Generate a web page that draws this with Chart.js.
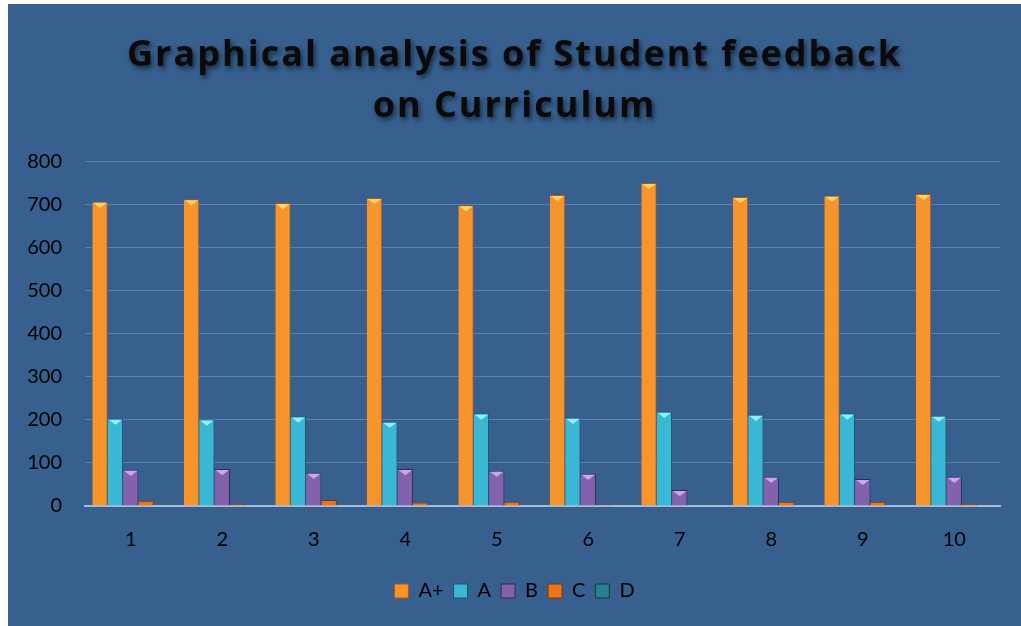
<!DOCTYPE html>
<html>
<head>
<meta charset="utf-8">
<script src="https://cdn.jsdelivr.net/npm/chart.js@4.4.0/dist/chart.umd.min.js"></script>
<style>
  html, body { margin: 0; padding: 0; background: #ffffff; }
  #wrap { position: absolute; left: 8px; top: 4px; width: 1013px; height: 622px; background: #37608f; }
  canvas { display: block; }
</style>
</head>
<body>
<div id="wrap"><canvas id="c" width="1013" height="622"></canvas></div>
<script>
const categories = ['1','2','3','4','5','6','7','8','9','10'];
const seriesNames = ['A+','A','B','C','D'];
const valuesAplus = [707, 713, 704, 716, 699, 723, 751, 718, 721, 725];
const valuesA     = [203, 201, 208, 196, 215, 205, 219, 212, 215, 210];
const valuesB     = [84, 86, 77, 86, 82, 75, 37, 68, 63, 68];
const valuesC     = [12, 5, 14, 8, 10, 3, 1, 10, 10, 5];
const valuesD     = [0, 0, 0, 0, 0, 0, 0, 0, 0, 0];
const yTicks      = [0, 100, 200, 300, 400, 500, 600, 700, 800];

const palette = [
  { mid: '#f7952c', edge: '#d46f16', border: '#b0570f', cap: '#ffd36a' },
  { mid: '#3bb7d6', edge: '#2290ac', border: '#14586a', cap: '#8ff0ff' },
  { mid: '#8261ad', edge: '#5f428a', border: '#3a2656', cap: '#c9a6f0' },
  { mid: '#ef7418', edge: '#c4560a', border: '#7d3306', cap: '#ffad5e' },
  { mid: '#2a7f8f', edge: '#1a5c68', border: '#0f3a42', cap: '#5fb8c8' }
];

function barFill(idx) {
  return function(ctx) {
    const chart = ctx.chart;
    const el = ctx.element;
    const p = palette[idx];
    if (!el || !isFinite(el.x) || !el.width) return p.mid;
    const x0 = el.x - el.width / 2, x1 = el.x + el.width / 2;
    const g = chart.ctx.createLinearGradient(x0, 0, x1, 0);
    g.addColorStop(0, p.edge);
    g.addColorStop(0.45, p.mid);
    g.addColorStop(1, p.edge);
    return g;
  };
}

const allValues = [valuesAplus, valuesA, valuesB, valuesC, valuesD];

const capPlugin = {
  id: 'caps',
  afterDatasetsDraw(chart) {
    const ctx = chart.ctx;
    chart.data.datasets.forEach((ds, di) => {
      const meta = chart.getDatasetMeta(di);
      meta.data.forEach((bar) => {
        const h = bar.base - bar.y;
        if (h < 12) return;
        const w = bar.width;
        const x0 = bar.x - w / 2;
        const cap = Math.min(w * 0.4, 7);
        ctx.save();
        ctx.fillStyle = palette[di].cap;
        ctx.beginPath();
        ctx.moveTo(x0 + 1, bar.y + 1);
        ctx.lineTo(x0 + w - 1, bar.y + 1);
        ctx.lineTo(bar.x, bar.y + cap);
        ctx.closePath();
        ctx.fill();
        ctx.restore();
      });
    });
  }
};

const titleShadow = {
  id: 'titleShadow',
  beforeDraw(chart) {
    const tb = chart.titleBlock;
    if (tb && !tb._patched) {
      const orig = tb.draw.bind(tb);
      tb.draw = function() {
        const ctx = chart.ctx;
        ctx.save();
        ctx.shadowColor = 'rgba(0,0,0,0.55)';
        ctx.shadowBlur = 5;
        ctx.shadowOffsetX = 2;
        ctx.shadowOffsetY = 3;
        try { ctx.letterSpacing = '2px'; } catch (e) {}
        orig();
        ctx.restore();
      };
      tb._patched = true;
    }
  }
};

new Chart(document.getElementById('c'), {
  type: 'bar',
  data: {
    labels: categories,
    datasets: seriesNames.map((name, i) => ({
      label: name,
      data: allValues[i],
      backgroundColor: barFill(i),
      borderColor: palette[i].border,
      borderWidth: { left: 0, right: 1, top: 1, bottom: 0 },
      borderSkipped: 'bottom',
      barPercentage: 1.0,
      categoryPercentage: 0.84
    }))
  },
  options: {
    responsive: false,
    animation: false,
    layout: { padding: { left: 0, right: 0, top: 0, bottom: 15 } },
    plugins: {
      title: {
        display: true,
        text: ['Graphical analysis of Student feedback', 'on Curriculum'],
        color: '#0a0a0a',
        font: { family: 'Open Sans', size: 36, weight: 'bold', lineHeight: 1.4 },
        padding: { top: 27, bottom: 30 }
      },
      legend: {
        display: true,
        position: 'bottom',
        labels: {
          color: '#000000',
          font: { family: 'Lato', size: 20 },
          boxWidth: 14,
          boxHeight: 14,
          padding: 10,
          generateLabels(chart) {
            return chart.data.datasets.map((ds, i) => ({
              text: ds.label,
              fillStyle: palette[i].mid,
              strokeStyle: palette[i].border,
              lineWidth: 1,
              hidden: false,
              datasetIndex: i,
              fontColor: '#000000'
            }));
          }
        }
      },
      tooltip: { enabled: false }
    },
    scales: {
      x: {
        grid: { display: false, drawTicks: false },
        border: { display: true, color: '#a9bccf', width: 2 },
        ticks: { color: '#000000', font: { family: 'Lato', size: 20 }, padding: 22 },
        afterFit(scale) { scale.height = 65; }
      },
      y: {
        min: 0,
        max: 800,
        afterBuildTicks(scale) { scale.ticks = yTicks.map(v => ({ value: v })); },
        afterFit(scale) { scale.width = 77; },
        grid: { color: 'rgba(130,160,200,0.5)', lineWidth: 1, drawTicks: false },
        border: { display: false },
        ticks: { color: '#000000', font: { family: 'Lato', size: 20 }, padding: 23 }
      },
      yRight: {
        position: 'right',
        display: true,
        grid: { display: false, drawTicks: false },
        border: { display: false },
        ticks: { display: false },
        afterFit(scale) { scale.width = 21; }
      }
    }
  },
  plugins: [titleShadow, capPlugin]
});
</script>
</body>
</html>
